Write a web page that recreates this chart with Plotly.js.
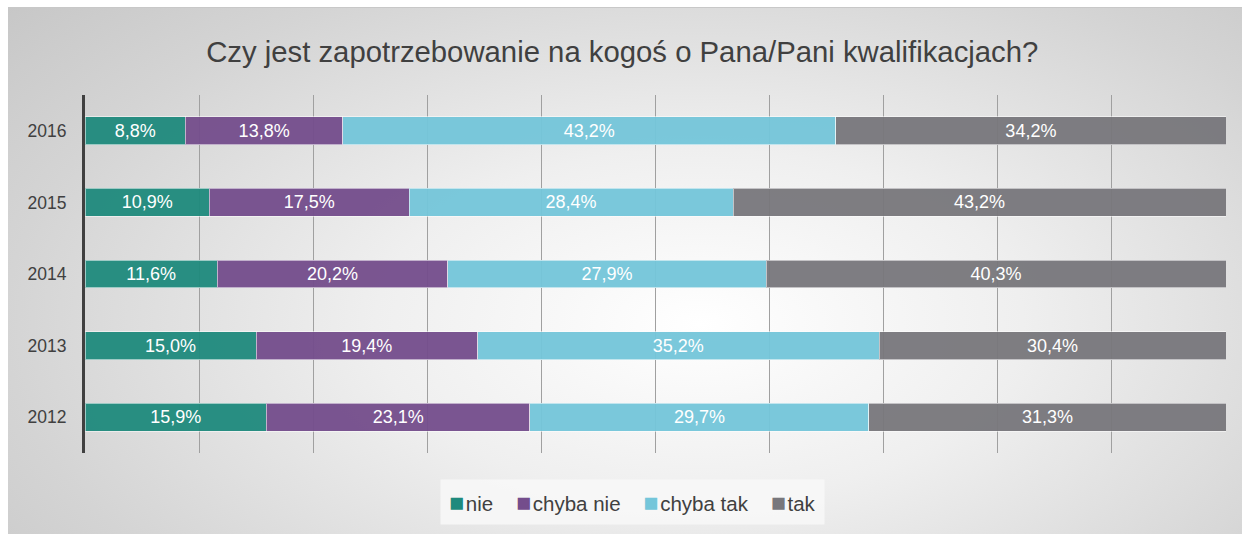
<!DOCTYPE html>
<html>
<head>
<meta charset="utf-8">
<script src="https://cdn.plot.ly/plotly-3.0.1.min.js"></script>
<style>
  html, body { margin: 0; padding: 0; background: #ffffff; }
  #wrap { position: relative; width: 1242px; height: 534px; overflow: hidden; }
  #bg { position: absolute; left: 8px; top: 7px; width: 1234px; height: 527px;
        border-top: 1px solid #c8c8c8;
        background: radial-gradient(ellipse 75% 95% at 56% 60%, #ffffff 0%, #efefef 35%, #d4d4d4 75%, #c6c6c6 100%); }
  #chart { position: absolute; left: 0; top: 0; width: 1242px; height: 534px; }
</style>
</head>
<body>
<div id="wrap">
  <div id="bg"></div>
  <div id="chart"></div>
</div>
<script>
const years = ['2012', '2013', '2014', '2015', '2016'];
const seriesNames = ['nie', 'chyba nie', 'chyba tak', 'tak'];
const nie = [15.9, 15.0, 11.6, 10.9, 8.8];
const chybaNie = [23.1, 19.4, 20.2, 17.5, 13.8];
const chybaTak = [29.7, 35.2, 27.9, 28.4, 43.2];
const tak = [31.3, 30.4, 40.3, 43.2, 34.2];
const colors = ['#1f8a7d', '#744d8c', '#74c6da', '#78777c'];
const values = [nie, chybaNie, chybaTak, tak];
const FONT = 'Liberation Sans, Arial, sans-serif';

const traces = values.map((vals, i) => ({
  type: 'bar',
  orientation: 'h',
  name: seriesNames[i],
  y: years,
  x: vals,
  marker: { color: colors[i], opacity: 0.95, line: { color: 'rgba(255,255,255,0.55)', width: 1 } },
  texttemplate: '%{x:.1f}%',
  textposition: 'inside',
  insidetextanchor: 'middle',
  constraintext: 'none',
  textfont: { family: FONT, size: 18, color: '#ffffff' },
  hoverinfo: 'skip',
  showlegend: false
}));

const legendText = seriesNames.map((n, i) =>
  '<span style="color:' + colors[i] + ';font-size:25px">■</span>&#8202;' + n
).join('&nbsp;&nbsp;&nbsp;&nbsp;');

const layout = {
  width: 1242,
  height: 534,
  paper_bgcolor: 'rgba(0,0,0,0)',
  plot_bgcolor: 'rgba(0,0,0,0)',
  separators: ', ',
  barmode: 'stack',
  bargap: 0.61,
  margin: { l: 85, r: 16, t: 95, b: 81 },
  title: {
    text: 'Czy jest zapotrzebowanie na kogoś o Pana/Pani kwalifikacjach?',
    font: { family: FONT, size: 29.3, color: '#404040' },
    x: 0.501, xanchor: 'center', xref: 'container',
    y: 0.903, yanchor: 'middle', yref: 'container'
  },
  xaxis: {
    range: [0, 100],
    dtick: 10,
    showticklabels: false,
    showgrid: true,
    gridcolor: '#a0a0a0',
    gridwidth: 1,
    zeroline: false,
    showline: false,
    fixedrange: true
  },
  yaxis: {
    type: 'category',
    categoryorder: 'array',
    categoryarray: years,
    showline: true,
    linecolor: '#404040',
    linewidth: 3,
    showgrid: false,
    zeroline: false,
    ticks: '',
    ticklabelstandoff: 12,
    tickfont: { family: FONT, size: 17.5, color: '#404040' },
    fixedrange: true
  },
  annotations: [{
    xref: 'paper', yref: 'paper',
    x: (632 - 85) / 1141, y: -(502 - 453) / 358,
    xanchor: 'center', yanchor: 'middle',
    showarrow: false,
    text: legendText,
    font: { family: FONT, size: 20.5, color: '#404040' },
    bgcolor: 'rgba(247,247,247,0.9)',
    borderpad: 8
  }],
  showlegend: false
};

Plotly.newPlot('chart', traces, layout, { displayModeBar: false, staticPlot: true });
</script>
</body>
</html>
